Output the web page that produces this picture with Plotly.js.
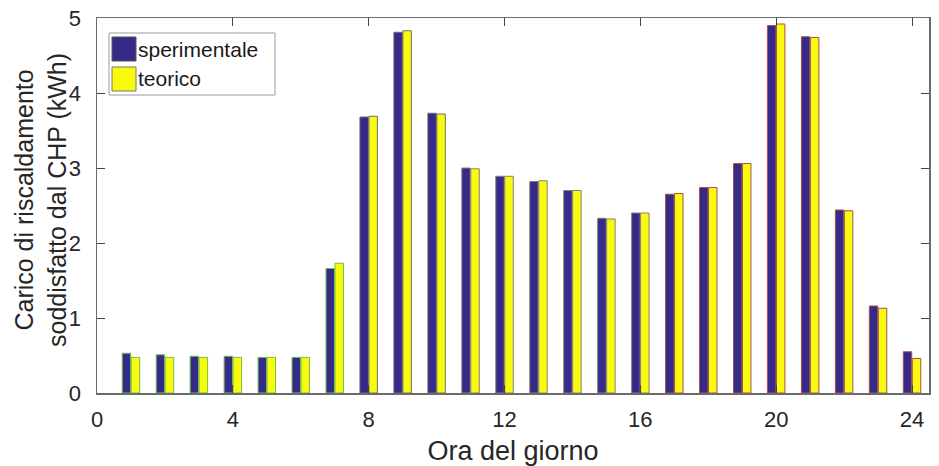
<!DOCTYPE html>
<html>
<head>
<meta charset="utf-8">
<script src="https://cdn.plot.ly/plotly-3.0.1.min.js"></script>
<style>html,body{margin:0;padding:0;background:#fff;}#chart{width:939px;height:466px;}</style>
</head>
<body>
<div id="chart"></div>
<script>
const hours = [1,2,3,4,5,6,7,8,9,10,11,12,13,14,15,16,17,18,19,20,21,22,23,24];
const sperimentale = [0.53,0.51,0.49,0.49,0.475,0.475,1.66,3.68,4.81,3.73,3.00,2.89,2.82,2.70,2.33,2.40,2.65,2.74,3.06,4.90,4.75,2.44,1.16,0.55];
const teorico =      [0.475,0.475,0.475,0.475,0.475,0.475,1.73,3.69,4.83,3.72,2.99,2.89,2.83,2.70,2.32,2.40,2.66,2.74,3.06,4.92,4.74,2.43,1.13,0.46];
const xTicks = [0,4,8,12,16,20,24];
const yTicks = [0,1,2,3,4,5];
const seriesNames = ['sperimentale','teorico'];
const yTitle = 'Carico di riscaldamento<br>soddisfatto dal CHP (kWh)';
const xTitle = 'Ora del giorno';

// edge colours drift from green (left) through grey to reddish (right)
function edgeColor(h){
  if (h <= 7) return '#6cc04a';
  if (h <= 10) return '#6e6e6e';
  if (h <= 16) return '#8a7f78';
  return '#a8504a';
}
const edges = hours.map(edgeColor);

const W = 939, H = 466, L = 97, R = 10, T = 18, B = 73;
const pw = W - L - R, ph = H - T - B;
const px = x => (x - L) / pw;
const py = y => (H - B - y) / ph;

const traces = [
  {type:'bar', x:hours, y:sperimentale, name:seriesNames[0],
   marker:{color:'#352a87', line:{color:edges, width:1}}, showlegend:false, hoverinfo:'x+y'},
  {type:'bar', x:hours, y:teorico, name:seriesNames[1],
   marker:{color:'#f9fb0e', line:{color:edges, width:1}}, showlegend:false, hoverinfo:'x+y'}
];

const fontFam = 'Liberation Sans, Arial, Helvetica, sans-serif';
const layout = {
  width:W, height:H,
  margin:{l:L, r:R, t:T, b:B, pad:0},
  paper_bgcolor:'#fff', plot_bgcolor:'#fff',
  barmode:'group', bargap:0.47, bargroupgap:0.06,
  font:{family:fontFam, color:'#262626'},
  xaxis:{range:[0,24.5], tickvals:xTicks, ticktext:xTicks.map(String),
    ticks:'inside', ticklen:8, tickcolor:'#444', showgrid:false, zeroline:false,
    showline:true, linecolor:'#6b6b6b', linewidth:1.5, mirror:'ticks',
    tickfont:{size:22, color:'#262626'}, ticklabelstandoff:6,
    title:{text:xTitle, font:{size:27, color:'#262626'}, standoff:10}},
  yaxis:{range:[0,5], tickvals:yTicks, ticktext:yTicks.map(String),
    ticks:'inside', ticklen:8, tickcolor:'#444', showgrid:false, zeroline:false,
    showline:true, linecolor:'#6b6b6b', linewidth:1.5, mirror:'ticks',
    tickfont:{size:22, color:'#262626'}, ticklabelstandoff:10},
  shapes:[
    {type:'rect', xref:'paper', yref:'paper', x0:px(109), x1:px(275), y0:py(95), y1:py(33),
     fillcolor:'#fff', line:{color:'#9a9a9a', width:1}},
    {type:'rect', xref:'paper', yref:'paper', x0:px(112), x1:px(136), y0:py(61), y1:py(37),
     fillcolor:'#352a87', line:{color:'#555', width:1}},
    {type:'rect', xref:'paper', yref:'paper', x0:px(112), x1:px(136), y0:py(91), y1:py(67),
     fillcolor:'#f9fb0e', line:{color:'#777', width:1}}
  ],
  annotations:[
    {xref:'paper', yref:'paper', x:px(41), y:py(200), xanchor:'center', yanchor:'middle',
     text:yTitle, textangle:-90, showarrow:false, font:{size:25, color:'#262626'}},
    {xref:'paper', yref:'paper', x:px(136), y:py(49), xanchor:'left', yanchor:'middle',
     text:seriesNames[0], showarrow:false, font:{size:21, color:'#1a1a1a'}},
    {xref:'paper', yref:'paper', x:px(136), y:py(79), xanchor:'left', yanchor:'middle',
     text:seriesNames[1], showarrow:false, font:{size:21, color:'#1a1a1a'}}
  ]
};
Plotly.newPlot('chart', traces, layout, {displayModeBar:false, staticPlot:true});
</script>
</body>
</html>
